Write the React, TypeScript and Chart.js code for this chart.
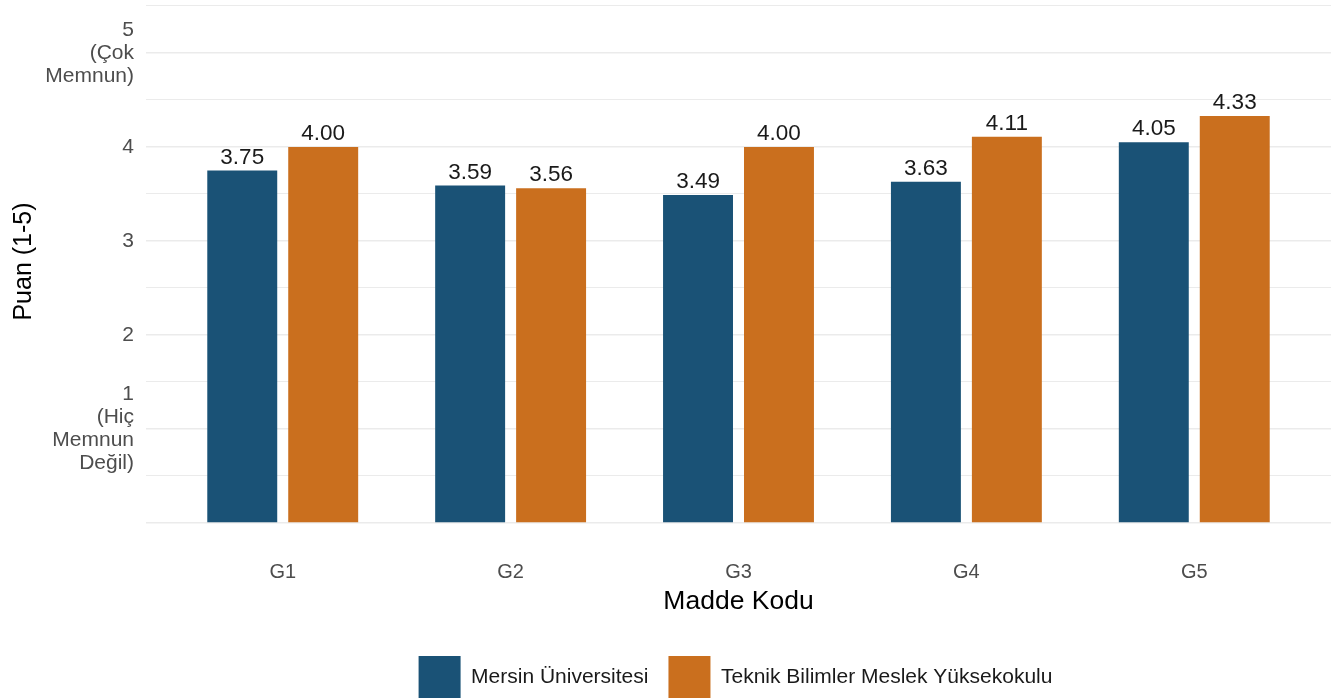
import React, { useEffect, useRef } from "react";
import { Chart, registerables } from "chart.js";

Chart.register(...registerables);

const FONT = "'Liberation Sans', Arial, sans-serif";

const categories = ["G1", "G2", "G3", "G4", "G5"];
const seriesNames = ["Mersin Üniversitesi", "Teknik Bilimler Meslek Yüksekokulu"];
const mersinValues = [3.75, 3.59, 3.49, 3.63, 4.05];
const tbmyoValues = [4.0, 3.56, 4.0, 4.11, 4.33];
const seriesColors = ["#1a5276", "#ca6f1e"];
const yGridValues = [0, 0.5, 1, 1.5, 2, 2.5, 3, 3.5, 4, 4.5, 5, 5.5];
const yTickLabels: Record<string, string[]> = {
  "1": ["1", "(Hiç", "Memnun", "Değil)"],
  "2": ["2"],
  "3": ["3"],
  "4": ["4"],
  "5": ["5", "(Çok", "Memnun)"],
};
const xTitle = "Madde Kodu";
const yTitle = "Puan (1-5)";

const valueLabels = {
  id: "valueLabels",
  afterDatasetsDraw(chart: any) {
    const ctx = chart.ctx;
    ctx.save();
    ctx.font = `22.5px ${FONT}`;
    ctx.fillStyle = "#1a1a1a";
    ctx.textAlign = "center";
    ctx.textBaseline = "alphabetic";
    chart.data.datasets.forEach((ds: any, di: number) => {
      const meta = chart.getDatasetMeta(di);
      meta.data.forEach((el: any, i: number) => {
        const v = ds.data[i].y as number;
        ctx.fillText(v.toFixed(2), el.x, el.y - 7);
      });
    });
    ctx.restore();
  },
};

const centerLegend = {
  id: "centerLegend",
  afterLayout(chart: any) {
    const lg = chart.legend;
    if (!lg) return;
    const ca = chart.chartArea;
    const shift = (ca.left + ca.right) / 2 - (lg.left + lg.right) / 2 - 3;
    lg.left += shift;
    lg.right += shift;
  },
};

export default function App() {
  const ref = useRef<HTMLCanvasElement | null>(null);

  useEffect(() => {
    if (!ref.current) return;
    const chart = new Chart(ref.current, {
      type: "bar",
      data: {
        datasets: [
          {
            label: seriesNames[0],
            data: mersinValues.map((v, i) => ({ x: i, y: v })),
            backgroundColor: seriesColors[0],
            borderWidth: 0,
            barPercentage: 0.864,
            categoryPercentage: 0.7105,
          },
          {
            label: seriesNames[1],
            data: tbmyoValues.map((v, i) => ({ x: i, y: v })),
            backgroundColor: seriesColors[1],
            borderWidth: 0,
            barPercentage: 0.864,
            categoryPercentage: 0.7105,
          },
        ],
      },
      options: {
        animation: false,
        responsive: true,
        maintainAspectRatio: false,
        layout: { padding: { left: 0, right: 10, top: 0, bottom: -10 } },
        scales: {
          x: {
            type: "linear",
            offset: false,
            min: -0.6,
            max: 4.6,
            afterBuildTicks: (s: any) => {
              s.ticks = categories.map((_, i) => ({ value: i }));
            },
            afterFit: (s: any) => {
              s.height = 113;
              s.paddingLeft = 0;
              s.paddingRight = 0;
            },
            grid: { display: false, drawTicks: false },
            border: { display: false },
            ticks: {
              autoSkip: false,
              maxRotation: 0,
              padding: 37,
              color: "#4d4d4d",
              font: { size: 20, family: FONT },
              callback: (v: any) => categories[Math.round(Number(v))] ?? "",
            },
            title: {
              display: true,
              text: xTitle,
              color: "#000000",
              font: { size: 26.5, family: FONT },
              padding: { top: 0, bottom: 18 },
            },
          },
          y: {
            type: "linear",
            min: 0,
            max: 5.564,
            afterBuildTicks: (s: any) => {
              s.ticks = yGridValues.map((v) => ({ value: v }));
            },
            afterFit: (s: any) => {
              s.width = 146;
              s.paddingTop = 0;
              s.paddingBottom = 0;
            },
            border: { display: false },
            grid: {
              color: "#ebebeb",
              lineWidth: (c: any) => (Number.isInteger(c.tick?.value) ? 1.6 : 1.1),
              drawTicks: false,
            },
            ticks: {
              autoSkip: false,
              padding: 12,
              color: "#4d4d4d",
              font: { size: 21, family: FONT, lineHeight: 1.1 },
              callback: (v: any) => yTickLabels[String(v)] ?? "",
            },
            title: {
              display: true,
              text: yTitle,
              color: "#000000",
              font: { size: 25, family: FONT },
              padding: { top: 9, bottom: 0 },
            },
          },
        },
        plugins: {
          legend: {
            position: "bottom",
            labels: {
              boxWidth: 42,
              boxHeight: 42,
              padding: 20,
              color: "#1a1a1a",
              font: { size: 21, family: FONT },
            },
          },
          tooltip: { enabled: false },
        },
      },
      plugins: [valueLabels, centerLegend],
    } as any);
    return () => chart.destroy();
  }, []);

  return (
    <div style={{ position: "fixed", left: 0, top: 0, width: 1341, height: 698 }}>
      <canvas ref={ref} />
    </div>
  );
}
